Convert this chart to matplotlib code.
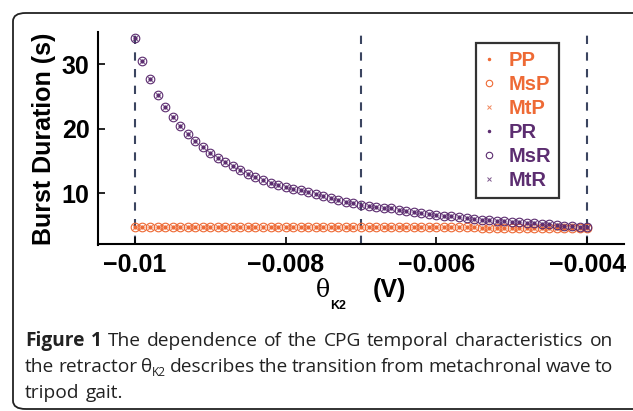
import numpy as np
import matplotlib
matplotlib.use("Agg")
from matplotlib import pyplot as plt
from matplotlib.patches import FancyBboxPatch

# retractor threshold sweep (V)
theta_k2 = np.linspace(-0.01, -0.004, 61)

# burst durations (s)
burst_R = [34.1, 30.6, 27.7, 25.2, 23.4, 21.8, 20.4, 19.1, 18.1, 17.1,
           16.3, 15.5, 14.8, 14.2, 13.6, 13.0, 12.5, 12.0, 11.6, 11.3,
           11.0, 10.7, 10.4, 10.1, 9.8, 9.5, 9.2, 8.9, 8.65, 8.4,
           8.2, 8.05, 7.9, 7.75, 7.6, 7.42, 7.25, 7.1, 6.95, 6.8,
           6.65, 6.5, 6.37, 6.22, 6.1, 5.98, 5.88, 5.8, 5.72, 5.64,
           5.56, 5.48, 5.4, 5.31, 5.22, 5.13, 5.04, 4.95, 4.87, 4.79, 4.7]
burst_P = [4.75, 4.75, 4.75, 4.75, 4.75, 4.75, 4.75, 4.75, 4.75, 4.75,
           4.75, 4.75, 4.75, 4.75, 4.75, 4.75, 4.74, 4.74, 4.74, 4.74,
           4.74, 4.74, 4.73, 4.73, 4.73, 4.73, 4.72, 4.72, 4.72, 4.72,
           4.71, 4.71, 4.71, 4.70, 4.70, 4.70, 4.69, 4.69, 4.68, 4.68,
           4.67, 4.67, 4.66, 4.66, 4.65, 4.65, 4.64, 4.63, 4.63, 4.62,
           4.61, 4.61, 4.60, 4.59, 4.59, 4.58, 4.57, 4.57, 4.56, 4.55, 4.55]

labels = ["PP", "MsP", "MtP", "PR", "MsR", "MtR"]
gait_marks = [-0.01, -0.007, -0.004]
xticks = [-0.01, -0.008, -0.006, -0.004]
xticklabels = ["\u22120.01", "\u22120.008", "\u22120.006", "\u22120.004"]
yticks = [10, 20, 30]

orange = "#ee6a35"
purple = "#5c2d70"
W, H = 633, 411

plt.rcParams["font.family"] = ["Liberation Sans", "DejaVu Sans"]
fig = plt.figure(figsize=(W / 100, H / 100), dpi=100)
ax = fig.add_axes([98 / W, 1 - 244.5 / H, 526 / W, 212.3 / H])

handles = []
for vals, col in [(burst_P, orange), (burst_R, purple)]:
    h1, = ax.plot(theta_k2, vals, ".", color=col, ms=4, ls="none")
    h2, = ax.plot(theta_k2, vals, "o", mfc="none", mec=col, ms=6.2, mew=0.8, ls="none")
    h3, = ax.plot(theta_k2, vals, "x", color=col, ms=4.2, mew=0.7, ls="none", alpha=0.8)
    handles += [h1, h2, h3]

for xv in gait_marks:
    ax.axvline(xv, color="#3b4560", lw=1.5, ls=(0, (4, 4)), zorder=0)

ax.set_xlim(-0.01049, -0.00351)
ax.set_ylim(2, 35)
ax.set_xticks(xticks)
ax.set_xticklabels(xticklabels)
ax.set_yticks(yticks)
for s in ["top", "right"]:
    ax.spines[s].set_visible(False)
for s in ["left", "bottom"]:
    ax.spines[s].set_linewidth(1.5)
ax.tick_params(direction="in", length=5, width=1.2, labelsize=18, pad=6)
for t in ax.get_xticklabels() + ax.get_yticklabels():
    t.set_fontweight("bold")
ax.set_ylabel("Burst Duration (s)", fontsize=18, fontweight="bold", labelpad=4)

# x label: theta with subscript K2, then unit
fig.text(323 / W, 1 - 290 / H, "\u03b8", fontsize=17, family="DejaVu Serif",
         ha="center", va="center")
fig.text(338 / W, 1 - 306 / H, "K2", fontsize=9, fontweight="bold",
         ha="center", va="center")
fig.text(389 / W, 1 - 290 / H, "(V)", fontsize=18, fontweight="bold",
         ha="center", va="center")

leg = ax.legend(handles, labels, loc="upper left", bbox_to_anchor=(0.719, 0.95),
                borderaxespad=0, prop={"weight": "bold", "size": 14.5},
                handlelength=0.5, handletextpad=0.7, labelspacing=0.25,
                borderpad=0.4, frameon=True, fancybox=False, markerscale=0.75)
leg.get_frame().set_edgecolor("black")
leg.get_frame().set_linewidth(1.6)
for i, t in enumerate(leg.get_texts()):
    t.set_color(orange if i < 3 else purple)

# rounded frame around figure + caption
frame = FancyBboxPatch((13 / W, 2 / H), 640 / W, (H - 15) / H,
                       boxstyle="round,pad=0,rounding_size=0.02",
                       transform=fig.transFigure, fill=False,
                       ec="#222222", lw=1.3, clip_on=False)
fig.patches.append(frame)

# caption, justified lines
cap_font = "Open Sans"
cap_size = 13.8
cap_lines = [
    [[("Figure", "bold", 1, 0)], [("1", "bold", 1, 0)], "The", "dependence", "of", "the",
     "CPG", "temporal", "characteristics", "on"],
    ["the", "retractor", [("\u03b8", "normal", 1, 0), ("K2", "normal", 0.62, -3.5)],
     "describes", "the", "transition", "from", "metachronal", "wave", "to"],
    ["tripod", "gait."],
]
cap_base = [346, 372, 398]
x_left, x_right = 25, 613
renderer = fig.canvas.get_renderer()


def piece_width(txt, weight, scale):
    t = fig.text(0, 0, txt, fontsize=cap_size * scale, family=cap_font, fontweight=weight)
    w = t.get_window_extent(renderer).width
    t.remove()
    return w


for li, words in enumerate(cap_lines):
    toks = [w if isinstance(w, list) else [(w, "normal", 1, 0)] for w in words]
    widths = [sum(piece_width(p[0], p[1], p[2]) for p in tok) for tok in toks]
    if li < len(cap_lines) - 1:
        gap = (x_right - x_left - sum(widths)) / (len(toks) - 1)
    else:
        gap = piece_width(" ", "normal", 1) * 1.2
    x = x_left
    for tok, w in zip(toks, widths):
        xx = x
        for txt, weight, scale, dy in tok:
            fig.text(xx / W, 1 - (cap_base[li] - dy) / H, txt, fontsize=cap_size * scale,
                     family=cap_font, fontweight=weight, va="baseline", ha="left",
                     color="#222222")
            xx += piece_width(txt, weight, scale)
        x += w + gap

fig.savefig("out.png", dpi=100)
